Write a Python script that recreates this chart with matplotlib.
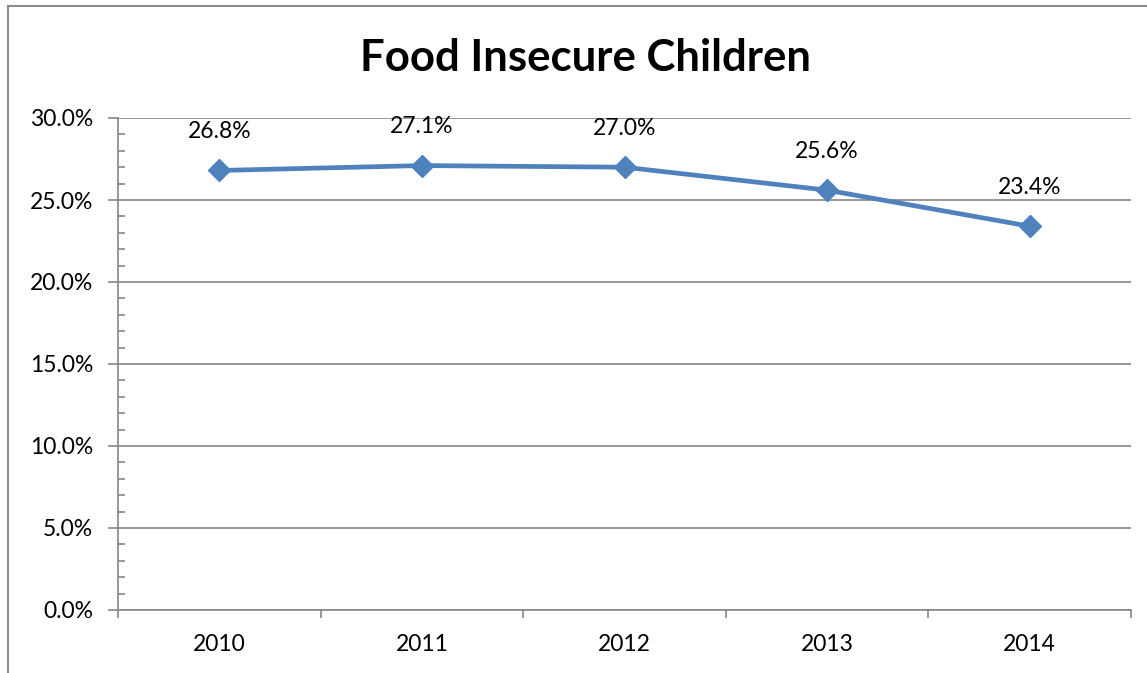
import matplotlib.pyplot as plt
from matplotlib.patches import Rectangle
from matplotlib.ticker import MultipleLocator, FuncFormatter

# Food insecure children, share by year
years = ["2010", "2011", "2012", "2013", "2014"]
values = [26.8, 27.1, 27.0, 25.6, 23.4]

plt.rcParams['font.family'] = ['Lato', 'DejaVu Sans']

fig = plt.figure(figsize=(11.47, 6.73), dpi=100)
ax = fig.add_axes([118 / 1147, 63 / 673, 1013 / 1147, 492 / 673])

# outer chart border (only left and top visible)
fig.add_artist(Rectangle((8 / 1147, -0.1), 1.2, 1.1 - 6 / 673,
                         transform=fig.transFigure, fill=False,
                         edgecolor='#8c8c8c', linewidth=1.5))

grey = '#868686'
x = range(len(years))
ax.plot(x, values, color='#4F81BD', linewidth=3.4, marker='D',
        markersize=11, markerfacecolor='#4F81BD', markeredgecolor='#4F81BD')

for xi, v in zip(x, values):
    ax.annotate(f"{v:.1f}%", (xi, v), xytext=(0, 28), textcoords='offset points',
                ha='center', va='center', fontsize=16.5)

ax.set_xlim(-0.5, len(years) - 0.5)
ax.set_ylim(0, 30)
ax.yaxis.set_major_locator(MultipleLocator(5))
ax.yaxis.set_minor_locator(MultipleLocator(1))
ax.yaxis.set_major_formatter(FuncFormatter(lambda v, p: f"{v:.1f}%"))
ax.grid(axis='y', which='major', color=grey, linewidth=1.2)
ax.set_axisbelow(True)

ax.set_xticks([i - 0.5 for i in range(len(years) + 1)])
ax.set_xticklabels([])
ax.set_xticks(list(x), minor=True)
ax.set_xticklabels(years, minor=True)
ax.tick_params(axis='x', which='major', length=6, color=grey, width=1.2, direction='out')
ax.tick_params(axis='x', which='minor', length=0, labelsize=16.5, pad=17)
ax.tick_params(axis='y', which='major', length=7, color=grey, width=1.2,
               direction='out', labelsize=16.5, pad=11)
ax.tick_params(axis='y', which='minor', length=5, color=grey, width=1.2, direction='in')

for s in ['top', 'right']:
    ax.spines[s].set_visible(False)
for s in ['left', 'bottom']:
    ax.spines[s].set_color(grey)
    ax.spines[s].set_linewidth(1.2)

fig.text(585 / 1147, 1 - 58 / 673, "Food Insecure Children", ha='center', va='center',
         fontsize=31.5, fontweight='bold')

fig.savefig("out.png", dpi=100)
